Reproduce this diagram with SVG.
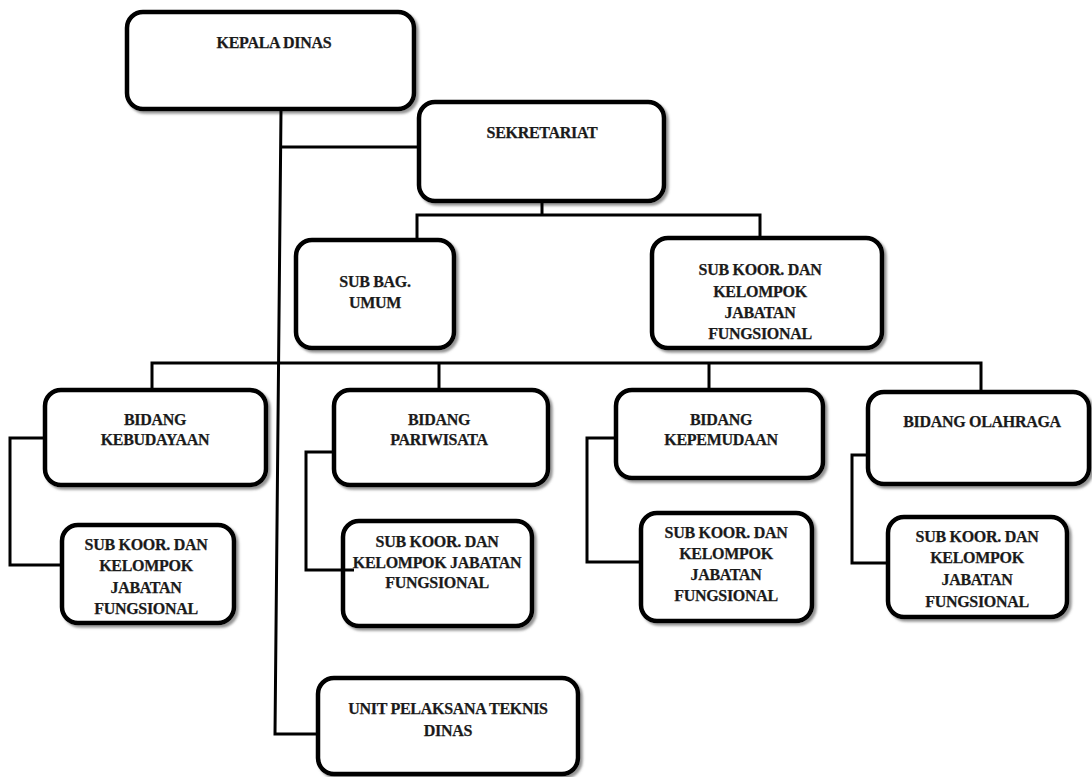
<svg xmlns="http://www.w3.org/2000/svg" width="1092" height="777" viewBox="0 0 1092 777">
  <defs>
    <filter id="sh" x="-5%" y="-5%" width="115%" height="120%">
      <feDropShadow dx="2.5" dy="2.5" stdDeviation="1" flood-color="#7a7a7a" flood-opacity="0.8"/>
    </filter>
  </defs>
  <style>
    .box { fill: #ffffff; stroke: #000000; stroke-width: 4.5; filter: url(#sh); }
    .t { font-family: "Liberation Serif", "DejaVu Serif", serif; font-weight: bold; font-size: 16px; letter-spacing: -0.3px; fill: #1a1a1a; stroke: #1a1a1a; stroke-width: 0.25; text-anchor: middle; }
    .c { fill: none; stroke: #000000; stroke-width: 3; stroke-linejoin: miter; }
  </style>
  <rect x="0" y="0" width="1092" height="777" fill="#ffffff"/>

  <g id="kepala-dinas">
    <rect class="box" x="127" y="12" width="287" height="97" rx="16"/>
    <text class="t" x="274" y="48">KEPALA DINAS</text>
  </g>
  <g id="sekretariat">
    <rect class="box" x="419" y="102" width="245" height="99" rx="16"/>
    <text class="t" x="542" y="138">SEKRETARIAT</text>
  </g>
  <g id="sub-bag-umum">
    <rect class="box" x="296" y="240" width="158" height="108" rx="16"/>
    <text class="t" x="375" y="287">SUB BAG.</text>
    <text class="t" x="375" y="308">UMUM</text>
  </g>
  <g id="sub-koor-sekretariat">
    <rect class="box" x="652" y="238" width="230" height="110" rx="16"/>
    <text class="t" x="760" y="275">SUB KOOR. DAN</text>
    <text class="t" x="760" y="297">KELOMPOK</text>
    <text class="t" x="760" y="318">JABATAN</text>
    <text class="t" x="760" y="339">FUNGSIONAL</text>
  </g>
  <g id="bidang-kebudayaan">
    <rect class="box" x="45" y="390" width="221" height="95" rx="16"/>
    <text class="t" x="155" y="425">BIDANG</text>
    <text class="t" x="155" y="445">KEBUDAYAAN</text>
  </g>
  <g id="sub-koor-kebudayaan">
    <rect class="box" x="62" y="525" width="172" height="98" rx="16"/>
    <text class="t" x="146" y="550">SUB KOOR. DAN</text>
    <text class="t" x="146" y="571">KELOMPOK</text>
    <text class="t" x="146" y="593">JABATAN</text>
    <text class="t" x="146" y="614">FUNGSIONAL</text>
  </g>
  <g id="bidang-pariwisata">
    <rect class="box" x="334" y="390" width="214" height="95" rx="16"/>
    <text class="t" x="439" y="425">BIDANG</text>
    <text class="t" x="439" y="445">PARIWISATA</text>
  </g>
  <g id="sub-koor-pariwisata">
    <rect class="box" x="343" y="521" width="189" height="105" rx="16"/>
    <text class="t" x="437" y="547">SUB KOOR. DAN</text>
    <text class="t" x="437" y="568">KELOMPOK JABATAN</text>
    <text class="t" x="437" y="588">FUNGSIONAL</text>
  </g>
  <g id="bidang-kepemudaan">
    <rect class="box" x="616" y="390" width="207" height="88" rx="16"/>
    <text class="t" x="721" y="425">BIDANG</text>
    <text class="t" x="721" y="445">KEPEMUDAAN</text>
  </g>
  <g id="sub-koor-kepemudaan">
    <rect class="box" x="641" y="513" width="171" height="108" rx="16"/>
    <text class="t" x="726" y="538">SUB KOOR. DAN</text>
    <text class="t" x="726" y="559">KELOMPOK</text>
    <text class="t" x="726" y="580">JABATAN</text>
    <text class="t" x="726" y="601">FUNGSIONAL</text>
  </g>
  <g id="bidang-olahraga">
    <rect class="box" x="868" y="392" width="221" height="92" rx="16"/>
    <text class="t" x="982" y="427">BIDANG OLAHRAGA</text>
  </g>
  <g id="sub-koor-olahraga">
    <rect class="box" x="888" y="517" width="179" height="100" rx="16"/>
    <text class="t" x="977" y="542">SUB KOOR. DAN</text>
    <text class="t" x="977" y="563">KELOMPOK</text>
    <text class="t" x="977" y="585">JABATAN</text>
    <text class="t" x="977" y="607">FUNGSIONAL</text>
  </g>
  <g id="upt-dinas">
    <rect class="box" x="318" y="678" width="260" height="96" rx="16"/>
    <text class="t" x="448" y="714">UNIT PELAKSANA TEKNIS</text>
    <text class="t" x="448" y="736">DINAS</text>
  </g>

  <g id="connectors">
    <path class="c" d="M281,110 L275,734 L318,734"/>
    <path class="c" d="M280,147 L419,147"/>
    <path class="c" d="M542,201 L542,215"/>
    <path class="c" d="M417,240 L417,215 L760,215 L760,238"/>
    <path class="c" d="M152,390 L152,363 L981,363 L981,392"/>
    <path class="c" d="M439,363 L439,390"/>
    <path class="c" d="M709,363 L709,390"/>
    <path class="c" d="M45,438 L10,438 L10,565 L62,565"/>
    <path class="c" d="M334,452 L306,452 L306,570 L354,570"/>
    <path class="c" d="M616,438 L587,438 L587,562 L643,562"/>
    <path class="c" d="M868,455 L852,455 L852,563 L890,563"/>
  </g>
</svg>
